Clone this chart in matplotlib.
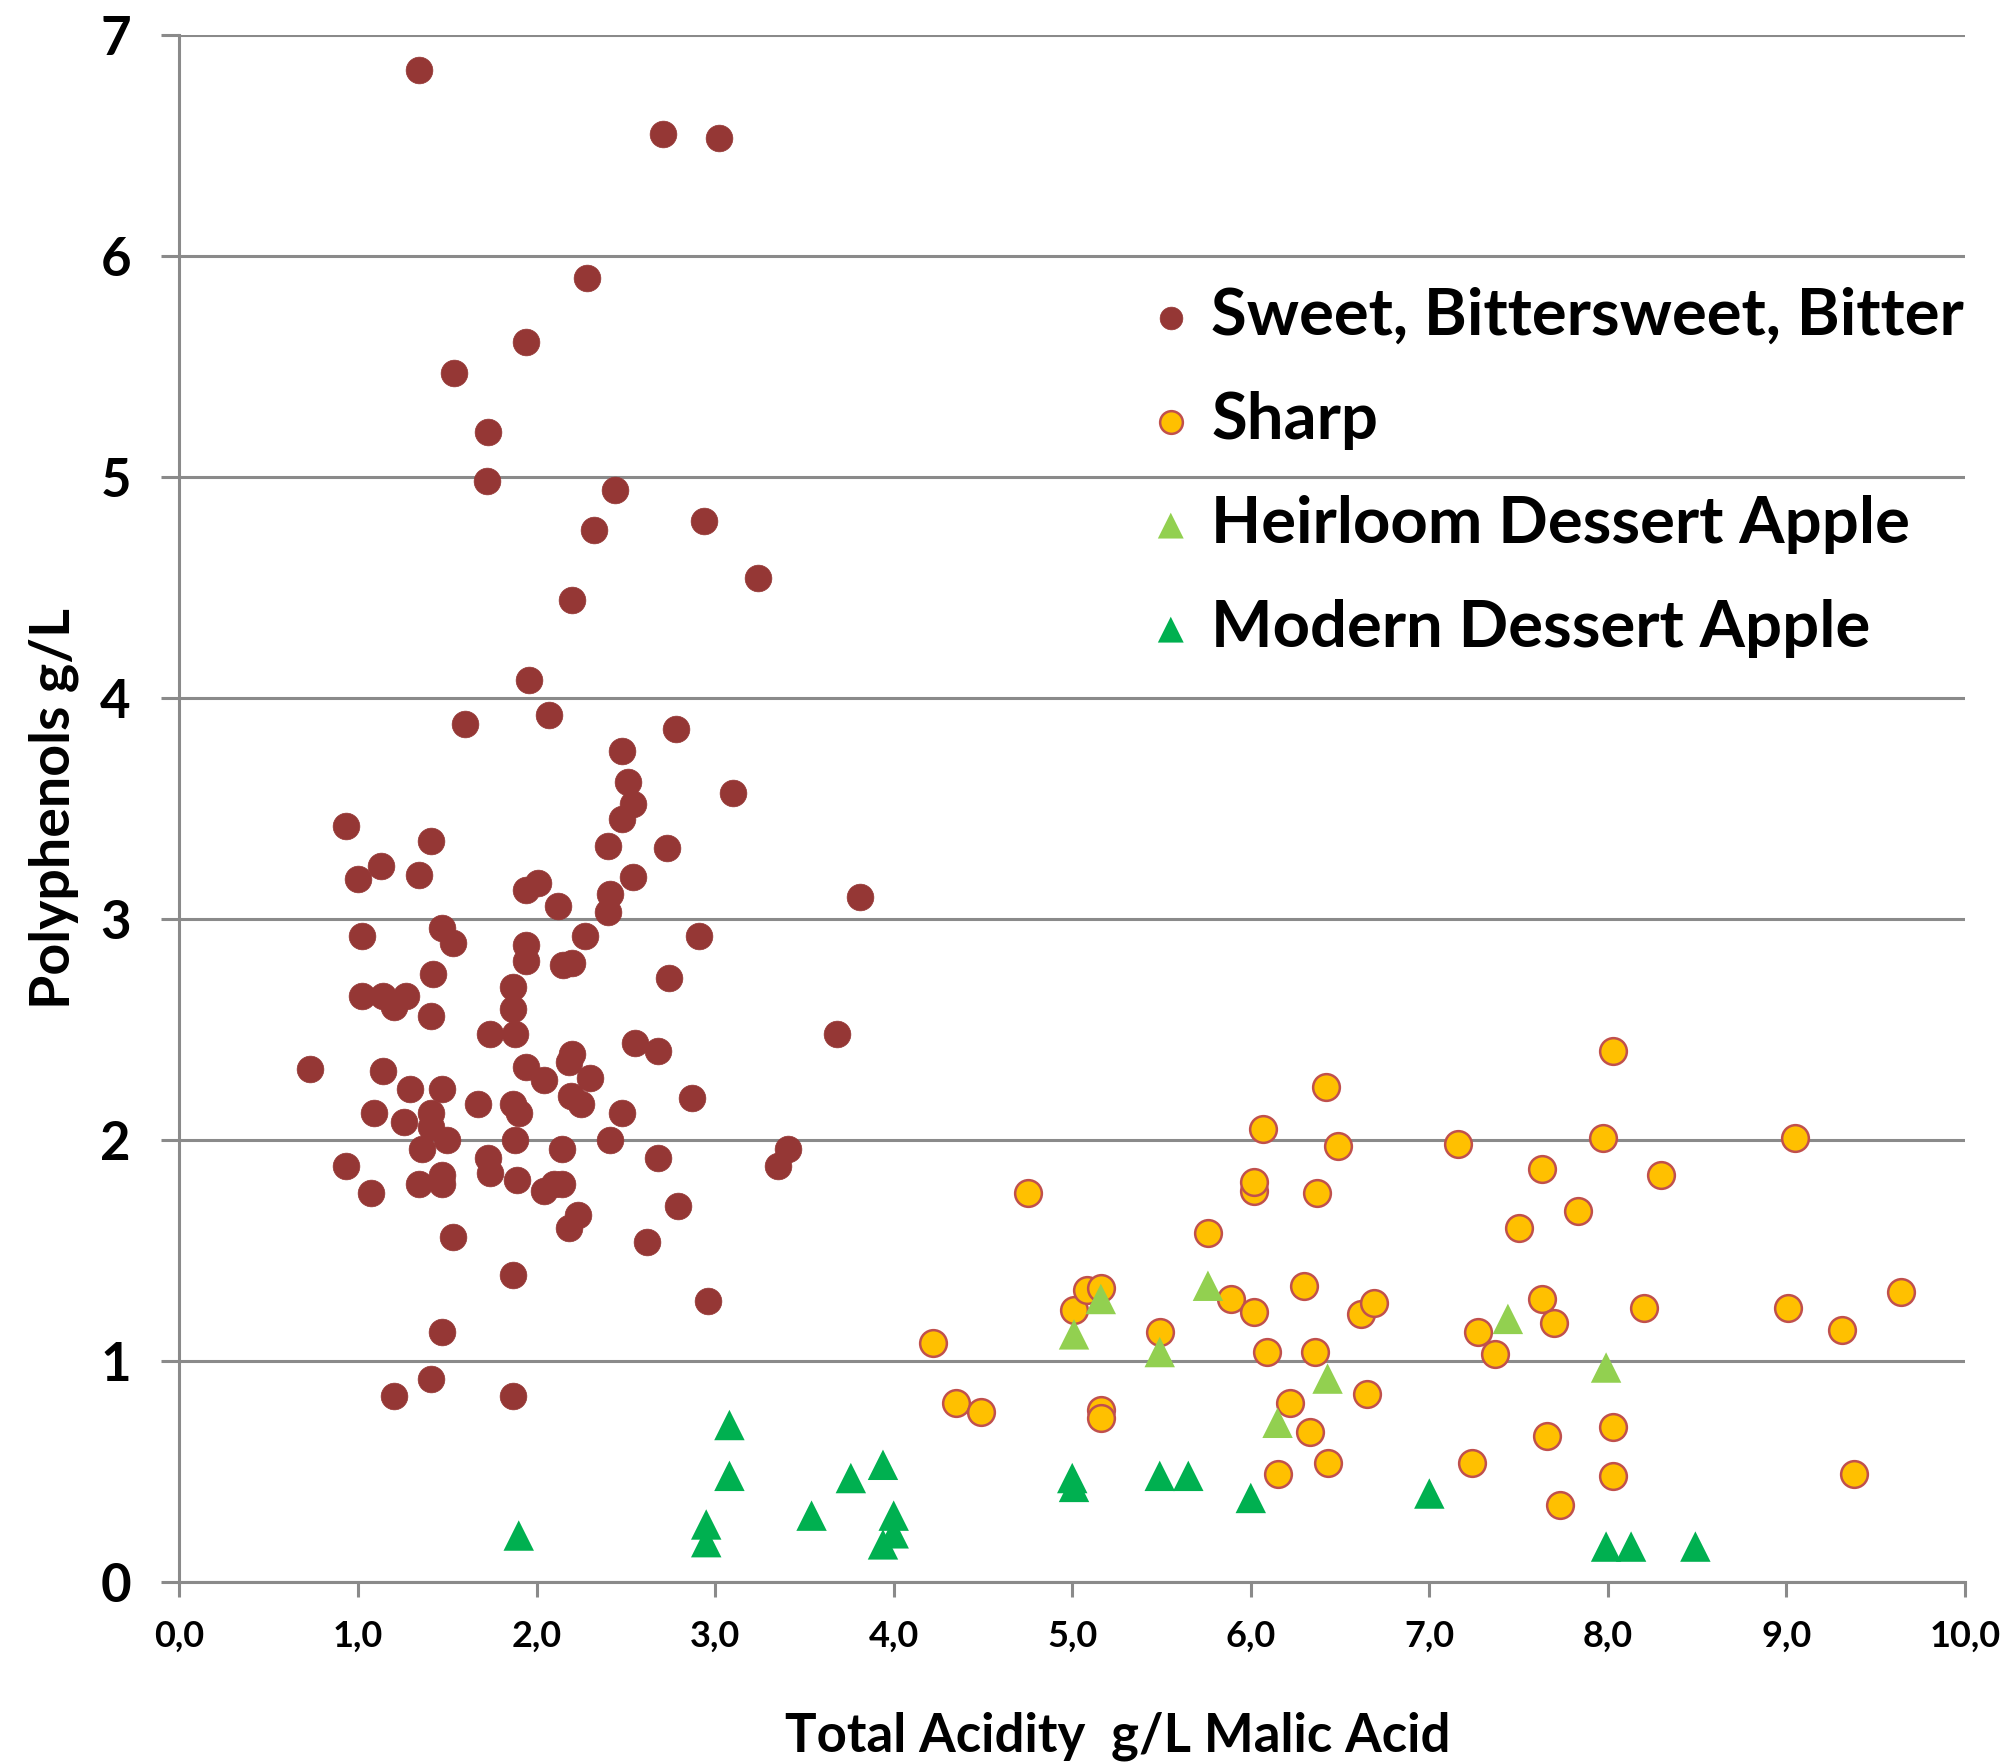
import matplotlib
matplotlib.use("Agg")
import matplotlib.pyplot as plt
from matplotlib.ticker import FixedLocator

plt.rcParams['font.family'] = ['Lato', 'DejaVu Sans']
plt.rcParams['font.weight'] = 'bold'

# ---- data ----
bitter_x = [1.34, 2.71, 3.02, 2.28, 1.94, 1.54, 1.73, 1.72, 2.44, 2.94, 2.32, 3.24, 2.20,
            1.96, 2.07, 1.60, 2.78, 2.48, 3.10, 2.51, 2.54, 2.48, 0.93, 1.41, 2.40, 2.73,
            1.13, 1.34, 2.54, 1.00, 2.01, 1.94, 2.41, 3.81, 2.12, 2.40, 1.47, 1.02, 2.27,
            2.91, 1.53, 1.94, 1.94, 2.20, 2.15, 1.42, 2.74, 1.87, 1.02, 1.14, 1.27, 1.20,
            1.87, 1.41, 1.74, 1.88, 3.68, 0.73, 2.55, 2.68, 2.20, 2.18, 1.14, 1.94, 2.30,
            2.04, 1.29, 1.47, 2.19, 2.25, 2.87, 1.67, 1.87, 1.41, 1.09, 2.48, 1.90, 1.41,
            1.26, 1.50, 1.88, 2.41, 1.36, 2.14, 3.41, 1.73, 2.68, 0.93, 1.74, 3.35, 1.47,
            1.47, 1.34, 1.89, 2.10, 2.14, 2.04, 1.07, 2.79, 2.23, 2.18, 1.53, 2.62, 1.87,
            2.96, 1.47, 1.41, 1.20, 1.87]
bitter_y = [6.84, 6.55, 6.53, 5.90, 5.61, 5.47, 5.20, 4.98, 4.94, 4.80, 4.76, 4.54, 4.44,
            4.08, 3.92, 3.88, 3.86, 3.76, 3.57, 3.62, 3.52, 3.45, 3.42, 3.35, 3.33, 3.32,
            3.24, 3.20, 3.19, 3.18, 3.16, 3.13, 3.11, 3.10, 3.06, 3.03, 2.96, 2.92, 2.92,
            2.92, 2.89, 2.88, 2.81, 2.80, 2.79, 2.75, 2.73, 2.69, 2.65, 2.65, 2.65, 2.60,
            2.59, 2.56, 2.48, 2.48, 2.48, 2.32, 2.44, 2.40, 2.39, 2.35, 2.31, 2.33, 2.28,
            2.27, 2.23, 2.23, 2.20, 2.16, 2.19, 2.16, 2.16, 2.12, 2.12, 2.12, 2.12, 2.06,
            2.08, 2.00, 2.00, 2.00, 1.96, 1.96, 1.96, 1.92, 1.92, 1.88, 1.85, 1.88, 1.84,
            1.80, 1.80, 1.82, 1.80, 1.80, 1.77, 1.76, 1.70, 1.66, 1.60, 1.56, 1.54, 1.39,
            1.27, 1.13, 0.92, 0.84, 0.84]

sharp_x = [4.22, 4.35, 4.49, 4.75, 5.01, 5.08, 5.16, 5.16, 5.16, 5.49, 5.76, 5.89, 6.02,
           6.02, 6.02, 6.07, 6.09, 6.15, 6.22, 6.30, 6.33, 6.36, 6.37, 6.42, 6.43, 6.49,
           6.62, 6.65, 6.69, 7.16, 7.24, 7.27, 7.37, 7.50, 7.63, 7.63, 7.66, 7.70, 7.73,
           7.83, 7.97, 8.03, 8.03, 8.03, 8.20, 8.30, 9.01, 9.05, 9.31, 9.38, 9.64]
sharp_y = [1.08, 0.81, 0.77, 1.76, 1.23, 1.32, 1.33, 0.78, 0.74, 1.13, 1.58, 1.28, 1.22,
           1.77, 1.81, 2.05, 1.04, 0.49, 0.81, 1.34, 0.68, 1.04, 1.76, 2.24, 0.54, 1.97,
           1.21, 0.85, 1.26, 1.98, 0.54, 1.13, 1.03, 1.60, 1.87, 1.28, 0.66, 1.17, 0.35,
           1.68, 2.01, 2.40, 0.70, 0.48, 1.24, 1.84, 1.24, 2.01, 1.14, 0.49, 1.31]

heirloom_x = [5.01, 5.16, 5.49, 5.76, 6.15, 6.43, 7.44, 7.99]
heirloom_y = [1.12, 1.28, 1.04, 1.34, 0.72, 0.92, 1.19, 0.97]

modern_x = [1.90, 3.08, 3.08, 2.95, 2.95, 3.54, 3.76, 3.94, 3.94, 4.00, 4.00, 5.00, 5.01,
            5.49, 5.65, 6.00, 7.00, 7.99, 8.13, 8.49]
modern_y = [0.21, 0.71, 0.48, 0.26, 0.18, 0.30, 0.47, 0.53, 0.17, 0.30, 0.22, 0.47, 0.43,
            0.48, 0.48, 0.38, 0.40, 0.16, 0.16, 0.16]

series_labels = ["Sweet, Bittersweet, Bitter", "Sharp",
                 "Heirloom Dessert Apple", "Modern Dessert Apple"]
x_ticks = [0, 1, 2, 3, 4, 5, 6, 7, 8, 9, 10]
x_tick_labels = ["0,0", "1,0", "2,0", "3,0", "4,0", "5,0", "6,0", "7,0", "8,0", "9,0", "10,0"]
y_ticks = [0, 1, 2, 3, 4, 5, 6, 7]
x_label = "Total Acidity  g/L Malic Acid"
y_label = "Polyphenols g/L"

# ---- figure ----
fig = plt.figure(figsize=(20.10, 17.64), dpi=100)
ax = fig.add_axes([0.0893, 0.1032, 0.8883, 0.8772])

grid_c = "#8a8a8a"
s_circ = 370
s_tri = 480

h1 = ax.scatter(bitter_x, bitter_y, s=s_circ, c="#953735", edgecolors="#953735",
                linewidths=0.5, zorder=3, label=series_labels[0])
h2 = ax.scatter(sharp_x, sharp_y, s=s_circ, c="#FFC000", edgecolors="#C0504D",
                linewidths=1.8, zorder=4, label=series_labels[1])
h3 = ax.scatter(heirloom_x, heirloom_y, s=s_tri, marker="^", c="#92D050",
                edgecolors="none", zorder=5, label=series_labels[2])
h4 = ax.scatter(modern_x, modern_y, s=s_tri, marker="^", c="#00B050",
                edgecolors="none", zorder=5, label=series_labels[3])

ax.set_xlim(0, 10)
ax.set_ylim(0, 7)
ax.xaxis.set_major_locator(FixedLocator(x_ticks))
ax.set_xticklabels(x_tick_labels)
ax.yaxis.set_major_locator(FixedLocator(y_ticks))
ax.set_yticklabels([str(v) for v in y_ticks])

ax.grid(axis="y", color=grid_c, linewidth=2.2, zorder=0)
ax.set_axisbelow(True)
for sp in ["top", "right"]:
    ax.spines[sp].set_visible(False)
for sp in ["left", "bottom"]:
    ax.spines[sp].set_color(grid_c)
    ax.spines[sp].set_linewidth(2.2)

ax.tick_params(axis="y", direction="out", length=13, width=2.2, color=grid_c,
               labelsize=38, pad=22)
ax.tick_params(axis="x", direction="out", length=11, width=2.2, color=grid_c,
               labelsize=26, pad=16)
for lab in ax.get_xticklabels() + ax.get_yticklabels():
    lab.set_fontweight("bold")

ax.set_xlabel(x_label, fontsize=38, fontweight="bold")
ax.xaxis.label.set_va("center")
ax.xaxis.set_label_coords(0.5255, -0.100)
ax.set_ylabel(y_label, fontsize=40, fontweight="bold")
ax.yaxis.label.set_va("center")
ax.yaxis.set_label_coords(-0.0704, 0.5)

leg = ax.legend(handles=[h1, h2, h3, h4], loc="upper left",
                bbox_to_anchor=(0.550, 0.856), bbox_transform=fig.transFigure,
                frameon=False, fontsize=47, markerscale=0.85, handletextpad=0.12,
                labelspacing=0.69, borderpad=0, handlelength=1.0)
for t in leg.get_texts():
    t.set_fontweight("bold")

fig.savefig("out.png", dpi=100)
